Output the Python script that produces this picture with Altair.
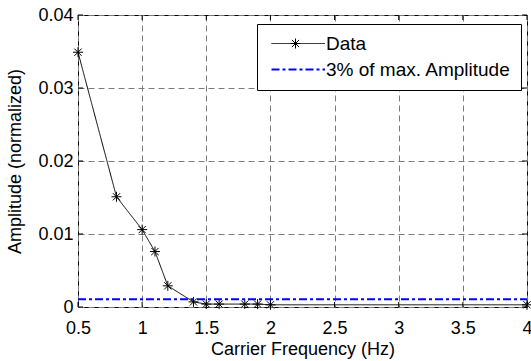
import altair as alt
import pandas as pd

# Measured normalized amplitude against carrier frequency
freq_hz = [0.5, 0.8, 1.0, 1.1, 1.2, 1.4, 1.5, 1.6, 1.8, 1.9, 2.0, 4.0]
amplitude = [0.0349, 0.0151, 0.0106, 0.0076, 0.0029, 0.0007, 0.0004,
             0.0004, 0.0004, 0.0004, 0.0003, 0.0003]

series_names = ["Data", "3% of max. Amplitude"]
series_colors = ["black", "#0000ff"]
series_dash = [[1, 0], [8, 3, 3, 3]]
series_width = [1, 2]

x_tick_values = [0.5, 1, 1.5, 2, 2.5, 3, 3.5, 4]
y_tick_values = [0, 0.01, 0.02, 0.03, 0.04]

threshold = 0.03 * max(amplitude)

FONT = "Liberation Sans"
FS = 18

# asterisk marker (unit path, scaled by the mark size)
STAR = "M0,-1L0,1M-1,0L1,0M-0.72,-0.72L0.72,0.72M-0.72,0.72L0.72,-0.72"
# long stroke used as the legend glyph
LEG_LINE = "M-1,0L9.7,0"

data_df = pd.DataFrame({"freq": freq_hz, "amp": amplitude,
                        "series": series_names[0], "marker": series_names[0]})
thr_df = pd.DataFrame({"freq": [x_tick_values[0], x_tick_values[-1]],
                       "amp": [threshold, threshold], "series": series_names[1]})
xt_df = pd.DataFrame({"v": x_tick_values})
yt_df = pd.DataFrame({"v": y_tick_values})

x_scale = alt.Scale(domain=[x_tick_values[0], x_tick_values[-1]], nice=False, zero=False)
y_scale = alt.Scale(domain=[y_tick_values[0], y_tick_values[-1]], nice=False)

line_legend = alt.Legend(
    title=None, orient="none", legendX=179, legendY=9,
    fillColor="white", strokeColor="black", cornerRadius=0,
    padding=10, rowPadding=6, labelOffset=40, labelLimit=400,
    labelFont=FONT, labelFontSize=19, labelColor="black",
    symbolType=LEG_LINE, symbolSize=100, symbolFillColor="transparent", symbolOpacity=1,
)
series_scale = alt.Scale(domain=series_names, range=series_colors)
dash_scale = alt.Scale(domain=series_names, range=series_dash)
width_scale = alt.Scale(domain=series_names, range=series_width)

color = alt.Color("series:N", scale=series_scale, legend=line_legend)
dash = alt.StrokeDash("series:N", scale=dash_scale, legend=line_legend)
width = alt.StrokeWidth("series:N", scale=width_scale, legend=line_legend)

# marker legend: a single asterisk laid over the data entry's stroke
marker_legend = alt.Legend(
    title=None, orient="none", legendX=212, legendY=23, padding=0,
    labelExpr="''", labelFontSize=1, symbolSize=100,
    symbolStrokeColor="black", symbolStrokeWidth=1, symbolFillColor="transparent",
    symbolOpacity=1,
)
shape = alt.Shape("marker:N", scale=alt.Scale(domain=[series_names[0]], range=[STAR]),
                  legend=marker_legend)

x_axis = alt.Axis(values=x_tick_values, format="~g", title="Carrier Frequency (Hz)",
                  ticks=False, tickSize=0, domain=False, labelFlush=False,
                  labelPadding=12, titlePadding=3)
y_axis = alt.Axis(values=y_tick_values, format="~g", title="Amplitude (normalized)",
                  ticks=False, tickSize=0, domain=False, labelFlush=False,
                  labelPadding=5, titlePadding=13)

base_x = alt.X("freq:Q", scale=x_scale, axis=x_axis)
base_y = alt.Y("amp:Q", scale=y_scale, axis=y_axis)

data_line = alt.Chart(data_df).mark_line().encode(
    x=base_x, y=base_y, color=color, strokeDash=dash, strokeWidth=width)
data_pts = alt.Chart(data_df).mark_point(
    size=100, filled=False, strokeWidth=1, opacity=1, color="black"
).encode(x="freq:Q", y="amp:Q", shape=shape)
thr_line = alt.Chart(thr_df).mark_line().encode(
    x="freq:Q", y="amp:Q", color=color, strokeDash=dash, strokeWidth=width)

# inward tick marks on all four sides of the frame
tick_style = dict(color="black", strokeWidth=1)
ticks_bottom = alt.Chart(xt_df).mark_rule(y2Offset=-5, **tick_style).encode(
    x="v:Q", y=alt.datum(y_tick_values[0]), y2=alt.datum(y_tick_values[0]))
ticks_top = alt.Chart(xt_df).mark_rule(y2Offset=5, **tick_style).encode(
    x="v:Q", y=alt.datum(y_tick_values[-1]), y2=alt.datum(y_tick_values[-1]))
ticks_left = alt.Chart(yt_df).mark_rule(x2Offset=5, **tick_style).encode(
    y="v:Q", x=alt.datum(x_tick_values[0]), x2=alt.datum(x_tick_values[0]))
ticks_right = alt.Chart(yt_df).mark_rule(x2Offset=-5, **tick_style).encode(
    y="v:Q", x=alt.datum(x_tick_values[-1]), x2=alt.datum(x_tick_values[-1]))

chart = alt.layer(
    data_line, data_pts, thr_line, ticks_bottom, ticks_top, ticks_left, ticks_right
).properties(
    width=449, height=292,
    autosize=alt.AutoSizeParams(type="none"),
    padding={"left": 78, "top": 15, "right": 4, "bottom": 54},
    background="white",
).configure_view(
    stroke="black", strokeWidth=1
).configure_axis(
    labelFont=FONT, labelFontSize=FS, labelColor="black",
    titleFont=FONT, titleFontSize=FS, titleFontWeight="normal", titleColor="black",
    grid=True, gridColor="#7a7a7a", gridDash=[6, 4], gridWidth=1, gridOpacity=1,
)

chart.save("out.html", embed_options={"renderer": "svg", "actions": False})
